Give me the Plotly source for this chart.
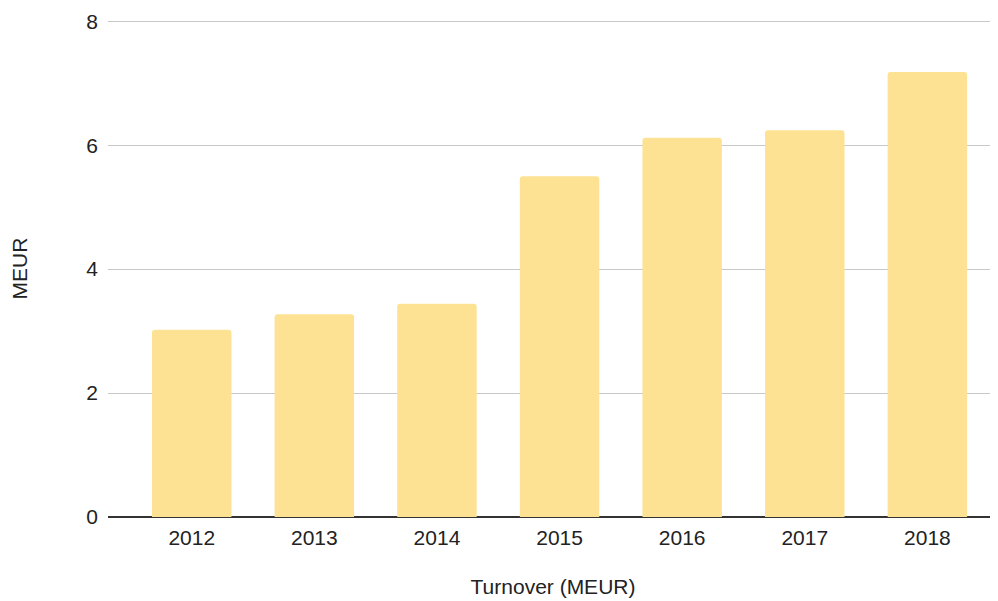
import plotly.graph_objects as go

years = ["2012", "2013", "2014", "2015", "2016", "2017", "2018"]
turnover = [3.02, 3.27, 3.44, 5.50, 6.12, 6.24, 7.18]
y_ticks = [0, 2, 4, 6, 8]

FONT = "Arial, 'Liberation Sans', sans-serif"

fig = go.Figure(go.Bar(
    x=years, y=turnover,
    marker=dict(color="#FDE293", cornerradius=3, line=dict(width=0)),
    width=0.648,
))
fig.update_layout(
    width=998, height=601,
    margin=dict(l=100, r=8, t=12, b=92, autoexpand=False),
    paper_bgcolor="white", plot_bgcolor="white",
    font=dict(family=FONT, size=21, color="#222"),
    showlegend=False,
    xaxis=dict(
        automargin=False,
        title=dict(text="Turnover (MEUR)", standoff=31, font=dict(family=FONT, size=21, color="#222")),
        range=[-0.683, 6.576], showgrid=False, showline=False, ticks="",
        tickfont=dict(family=FONT, size=21, color="#222"),
        ticklabelstandoff=6,
    ),
    yaxis=dict(
        automargin=False,
        title=dict(text="MEUR", standoff=59, font=dict(family=FONT, size=21, color="#222")),
        range=[0, 8.02], tickvals=y_ticks, showgrid=True, gridcolor="#c8c8c8", gridwidth=1,
        zeroline=True, zerolinecolor="#333333", zerolinewidth=1.5,
        showline=False, ticks="", tickfont=dict(family=FONT, size=21, color="#222"),
        ticklabelstandoff=9,
    ),
)
fig.write_html("out.html")
